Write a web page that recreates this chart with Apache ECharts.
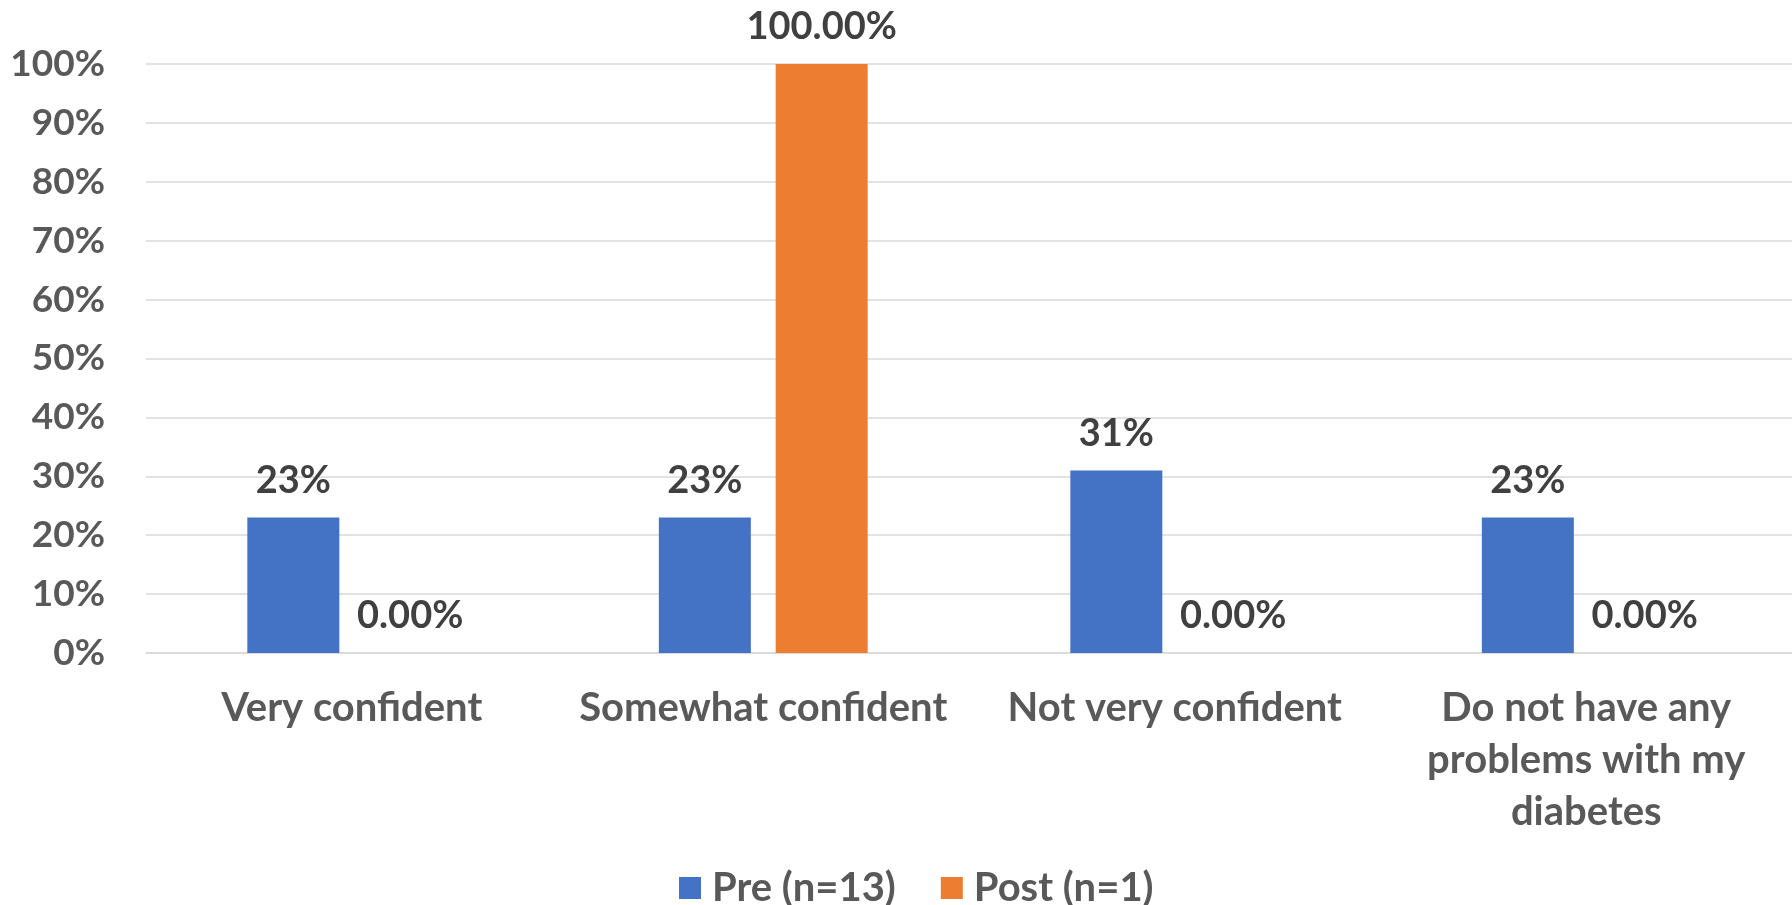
<!DOCTYPE html>
<html>
<head>
<meta charset="utf-8">
<style>
  html, body { margin: 0; padding: 0; background: #ffffff; }
  #chart { width: 1792px; height: 905px; }
</style>
<script src="https://cdn.jsdelivr.net/npm/echarts@6/dist/echarts.min.js"></script>
</head>
<body>
<div id="chart"></div>
<script>
// Confidence in managing diabetes, pre vs post survey
const categories = [
  'Very confident',
  'Somewhat confident',
  'Not very confident',
  'Do not have any\nproblems with my\ndiabetes'
];
const preValues = [23, 23, 31, 23];      // Pre (n=13), percent
const postValues = [0, 100, 0, 0];       // Post (n=1), percent
const seriesNames = ['Pre (n=13)', 'Post (n=1)'];

const FONT = 'Lato, "Open Sans", sans-serif';
const chart = echarts.init(document.getElementById('chart'));

const labelStyle = (decimals) => ({
  show: true,
  position: 'top',
  distance: 18,
  fontFamily: FONT,
  fontWeight: 'bold',
  fontSize: 38,
  color: '#404040',
  formatter: (p) => p.value.toFixed(decimals) + '%'
});

chart.setOption({
  animation: false,
  textStyle: { fontFamily: FONT },
  grid: { left: 146, right: 0, top: 64, bottom: 252, containLabel: false },
  legend: {
    data: seriesNames,
    top: 863,
    left: 674,
    itemWidth: 22,
    itemHeight: 22,
    itemGap: 45,
    icon: 'rect',
    textStyle: {
      fontFamily: FONT,
      fontWeight: 'bold',
      fontSize: 40,
      color: '#595959',
      padding: [0, 0, 0, 6]
    }
  },
  xAxis: {
    type: 'category',
    data: categories,
    axisTick: { show: false },
    axisLine: { show: true, lineStyle: { color: '#D9D9D9', width: 1.5 } },
    axisLabel: {
      interval: 0,
      margin: 29,
      fontFamily: FONT,
      fontWeight: 'bold',
      fontSize: 40,
      lineHeight: 52,
      color: '#595959',
      align: 'center'
    }
  },
  yAxis: {
    type: 'value',
    min: 0,
    max: 100,
    interval: 10,
    axisLine: { show: false },
    axisTick: { show: false },
    splitLine: { lineStyle: { color: '#D9D9D9', width: 1.5 } },
    axisLabel: {
      margin: 41,
      formatter: '{value}%',
      fontFamily: FONT,
      fontWeight: 'bold',
      fontSize: 37,
      color: '#595959'
    }
  },
  series: [
    {
      name: seriesNames[0],
      type: 'bar',
      data: preValues,
      barWidth: 92,
      barGap: '27%',
      itemStyle: { color: '#4472C4' },
      label: labelStyle(0)
    },
    {
      name: seriesNames[1],
      type: 'bar',
      data: postValues,
      barWidth: 92,
      itemStyle: { color: '#ED7D31' },
      label: labelStyle(2)
    }
  ]
});
</script>
</body>
</html>
